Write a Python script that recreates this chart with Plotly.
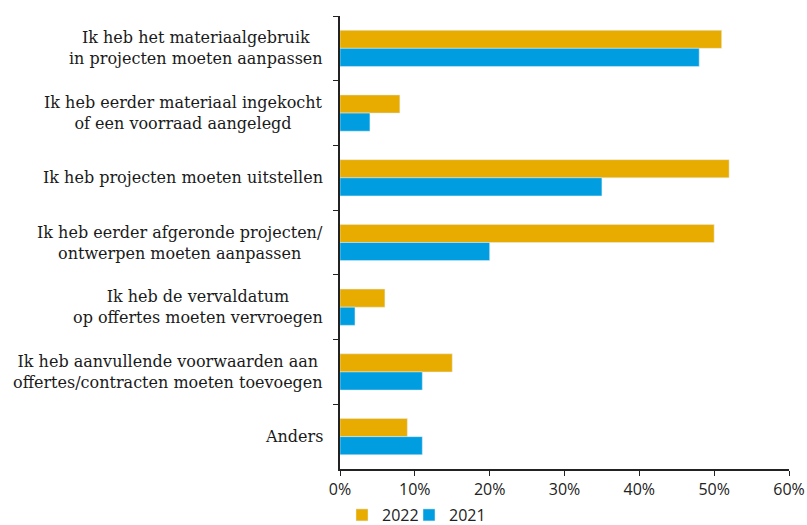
import plotly.graph_objects as go

categories = [
    "Ik heb het materiaalgebruik<br>in projecten moeten aanpassen",
    "Ik heb eerder materiaal ingekocht<br>of een voorraad aangelegd",
    "Ik heb projecten moeten uitstellen",
    "Ik heb eerder afgeronde projecten/<br>ontwerpen moeten aanpassen",
    "Ik heb de vervaldatum<br>op offertes moeten vervroegen",
    "Ik heb aanvullende voorwaarden aan<br>offertes/contracten moeten toevoegen",
    "Anders",
]
values_2022 = [51, 8, 52, 50, 6, 15, 9]
values_2021 = [48, 4, 35, 20, 2, 11, 11]
x_ticks = [0, 10, 20, 30, 40, 50, 60]
x_tick_labels = ["0%", "10%", "20%", "30%", "40%", "50%", "60%"]

fig = go.Figure()
fig.add_trace(go.Bar(y=categories, x=values_2022, orientation="h", name="2022",
                     marker=dict(color="#E8AC00")))
fig.add_trace(go.Bar(y=categories, x=values_2021, orientation="h", name="2021",
                     marker=dict(color="#009EE0")))
# spacer entry so the last legend label is not clipped
fig.add_trace(go.Scatter(x=[None], y=[None], mode="markers", name=" ",
                         marker=dict(color="rgba(0,0,0,0)"), hoverinfo="skip"))

for c in categories:
    fig.add_annotation(x=0, xref="paper", y=c, yref="y", text=c, showarrow=False,
                       xanchor="right", align="center", xshift=-15,
                       font=dict(family="DejaVu Serif", size=16, color="#1a1a1a"))

fig.update_layout(
    width=807, height=525,
    margin=dict(l=340, r=18, t=16, b=56),
    paper_bgcolor="white", plot_bgcolor="white",
    barmode="group", bargap=0.44, bargroupgap=0,
    font=dict(family="Open Sans", size=16, color="#222222"),
    showlegend=True,
    legend=dict(orientation="h", x=0.4238, xref="container", y=0.019, yref="container",
                xanchor="left", yanchor="middle",
                font=dict(family="Open Sans", size=16), itemwidth=30,
                entrywidth=22, entrywidthmode="pixels",
                traceorder="normal"),
    xaxis=dict(range=[0, 60], tickvals=x_ticks, ticktext=x_tick_labels,
               showgrid=False, zeroline=False, showline=True, linecolor="#222222",
               linewidth=1.5, ticks="outside", ticklen=5, tickcolor="#222222",
               automargin=False),
    yaxis=dict(autorange="reversed", showticklabels=False, showgrid=False,
               showline=True, linecolor="#222222", linewidth=1.5,
               ticks="outside", ticklen=5, tickcolor="#222222", tickson="boundaries",
               automargin=False),
)

fig.write_html("out.html", config={"displayModeBar": False},
               post_script="document.body.style.margin='0';")
